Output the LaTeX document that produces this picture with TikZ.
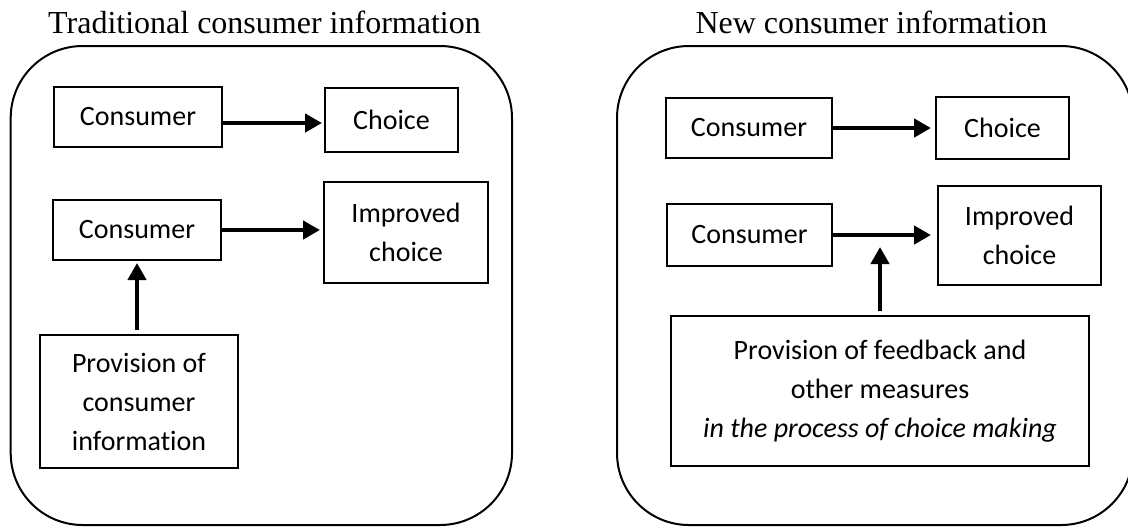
\documentclass[tikz,border=0pt]{standalone}
\usepackage{fontspec}
\setmainfont{Liberation Serif}
\newfontfamily\boxfont[Ligatures=NoCommon]{Carlito}
\usetikzlibrary{arrows.meta}
\tikzset{
  box/.style={draw, line width=1pt, inner sep=0pt, align=center,
    font=\boxfont\fontsize{14pt}{19.5pt}\selectfont},
  panel/.style={draw, line width=1pt, rounded corners=36pt},
  title/.style={anchor=base, inner sep=0pt, font=\fontsize{16pt}{19pt}\selectfont},
  arr/.style={line width=2.4pt, -{Triangle[length=8.5pt,width=9pt]}}
}
\begin{document}
\begin{tikzpicture}[x=0.5pt,y=-0.5pt]
\useasboundingbox (0,0) rectangle (1128,527);
\clip (0,0) rectangle (1128,527);

% titles
\node[title] (t1) at (264.5,33) {Traditional consumer information};
\node[title] (t2) at (871.5,33) {New consumer information};

% panels
\draw[panel] (10.7,46) rectangle (512,525);
\draw[panel] (617,46) rectangle (1133,525);

% left panel
\node[box, minimum width=84pt, minimum height=30pt] (c1) at (138,117) {Consumer};
\node[box, minimum width=66.5pt, minimum height=32pt] (ch1) at (391.5,120) {Choice};
\node[box, minimum width=84pt, minimum height=30pt] (c2) at (137,230) {Consumer};
\node[box, minimum width=82pt, minimum height=50.5pt] (im1) at (406,232.5) {Improved\\choice};
\node[box, minimum width=99pt, minimum height=66.5pt] (pv1) at (139,401.5) {Provision of\\consumer\\information};

\draw[arr, shorten >=1pt] (c1.east |- 0,123) -- (ch1.west |- 0,123);
\draw[arr, shorten >=1.5pt] (c2.east |- 0,230) -- (im1.west |- 0,230);
\draw[arr] ([xshift=-1pt,yshift=2pt]pv1.north) -- ([yshift=-1pt]c2.south);

% right panel
\node[box, minimum width=83pt, minimum height=30pt] (c1r) at (749,128) {Consumer};
\node[box, minimum width=66.5pt, minimum height=31pt] (ch1r) at (1002.5,128) {Choice};
\node[box, minimum width=82.5pt, minimum height=31pt] (c2r) at (749.5,235) {Consumer};
\node[box, minimum width=81.5pt, minimum height=49.5pt] (im1r) at (1019.5,235.5) {Improved\\choice};
\node[box, minimum width=209pt, minimum height=75pt] (pvr) at (880,391) {Provision of feedback and\\other measures\\\textit{in the process of choice making}};
\coordinate (tr) at (880,247);

\draw[arr, shorten >=2pt] (c1r.east |- 0,128) -- (ch1r.west |- 0,128);
\draw[arr, shorten >=3pt] (c2r.east |- 0,235) -- (im1r.west |- 0,235);
\draw[arr] ([yshift=2pt]pvr.north) -- (tr);
\end{tikzpicture}
\end{document}
